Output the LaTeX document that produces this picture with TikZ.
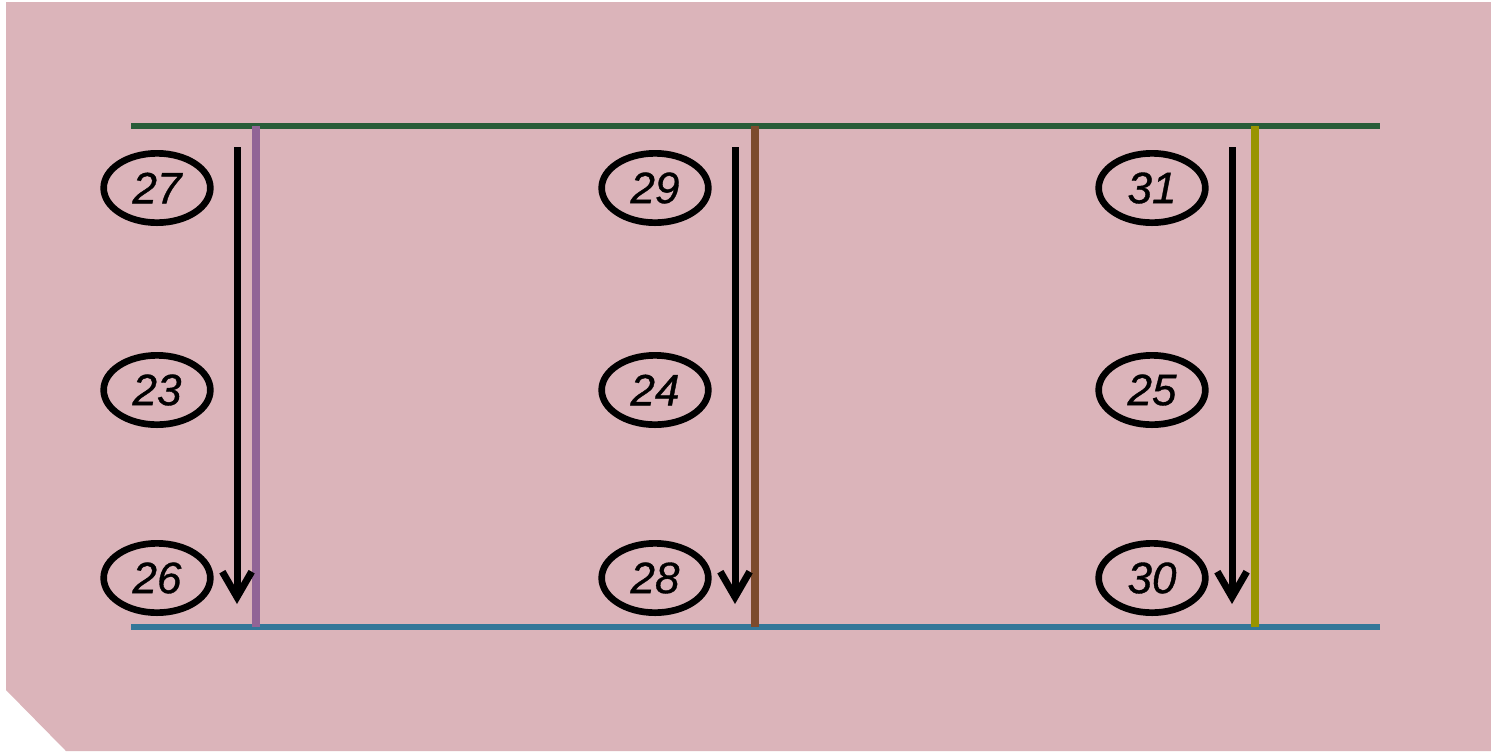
\documentclass[tikz,border=0pt]{standalone}
\usepackage{fontspec}
\setmainfont{Liberation Sans}
\newfontfamily\tagfont[ItalicFeatures={FakeBold=0.8}]{Liberation Sans}
\usepackage{tikz}
\usetikzlibrary{arrows.meta,positioning,shapes.geometric}
\definecolor{bgpink}{RGB}{219,180,186}
\definecolor{railgreen}{RGB}{40,92,56}
\definecolor{railblue}{RGB}{51,119,153}
\definecolor{linkpurple}{RGB}{145,100,150}
\definecolor{linkbrown}{RGB}{125,75,45}
\definecolor{linkolive}{RGB}{153,148,0}

\begin{document}
\begin{tikzpicture}[x=0.75pt,y=-0.75pt,
 tag/.style={draw,ellipse,line width=5pt,minimum width=80pt,minimum height=52pt,inner sep=0pt,font=\tagfont\fontsize{33}{38}\selectfont\itshape},
 rail/.style={line width=5pt},
 flow/.style={line width=5.25pt,-{Straight Barb[length=19pt,width=22pt,line width=5.25pt]}}]
\useasboundingbox (0,0) rectangle (1491,751);
\fill[bgpink] (6,2) -- (1491,2) -- (1491,751) -- (66,751) -- (6,690) -- cycle;
% rails
\coordinate (tl) at (131,126);
\coordinate (tr) at (1380,126);
\coordinate (bl) at (131,627);
\coordinate (br) at (1380,627);
\draw[rail,railgreen] (tl) -- (tr);
\draw[rail,railblue] (bl) -- (br);
% links between the rails
\foreach \x/\c/\n in {256/linkpurple/a,755/linkbrown/b,1255/linkolive/c}{
  \coordinate (top\n) at (\x,126);
  \coordinate (bot\n) at (\x,627);
  \draw[rail,line width=5.5pt,\c] (top\n) -- (bot\n);
}
% arrows
\foreach \x/\n in {237/a,735/b,1232/c}{
  \coordinate (from\n) at (\x,147);
  \coordinate (to\n) at (\x,604);
  \draw[flow] (from\n) -- (to\n);
}
% tags
\node[tag] (t27) at (157,188) {27};
\node[tag] (t23) at (157,390) {23};
\node[tag] (t26) at (157,578) {26};
\node[tag] (t29) at (655,188) {29};
\node[tag] (t24) at (655,390) {24};
\node[tag] (t28) at (655,578) {28};
\node[tag] (t31) at (1152,188) {31};
\node[tag] (t25) at (1152,390) {25};
\node[tag] (t30) at (1152,578) {30};
\end{tikzpicture}
\end{document}
